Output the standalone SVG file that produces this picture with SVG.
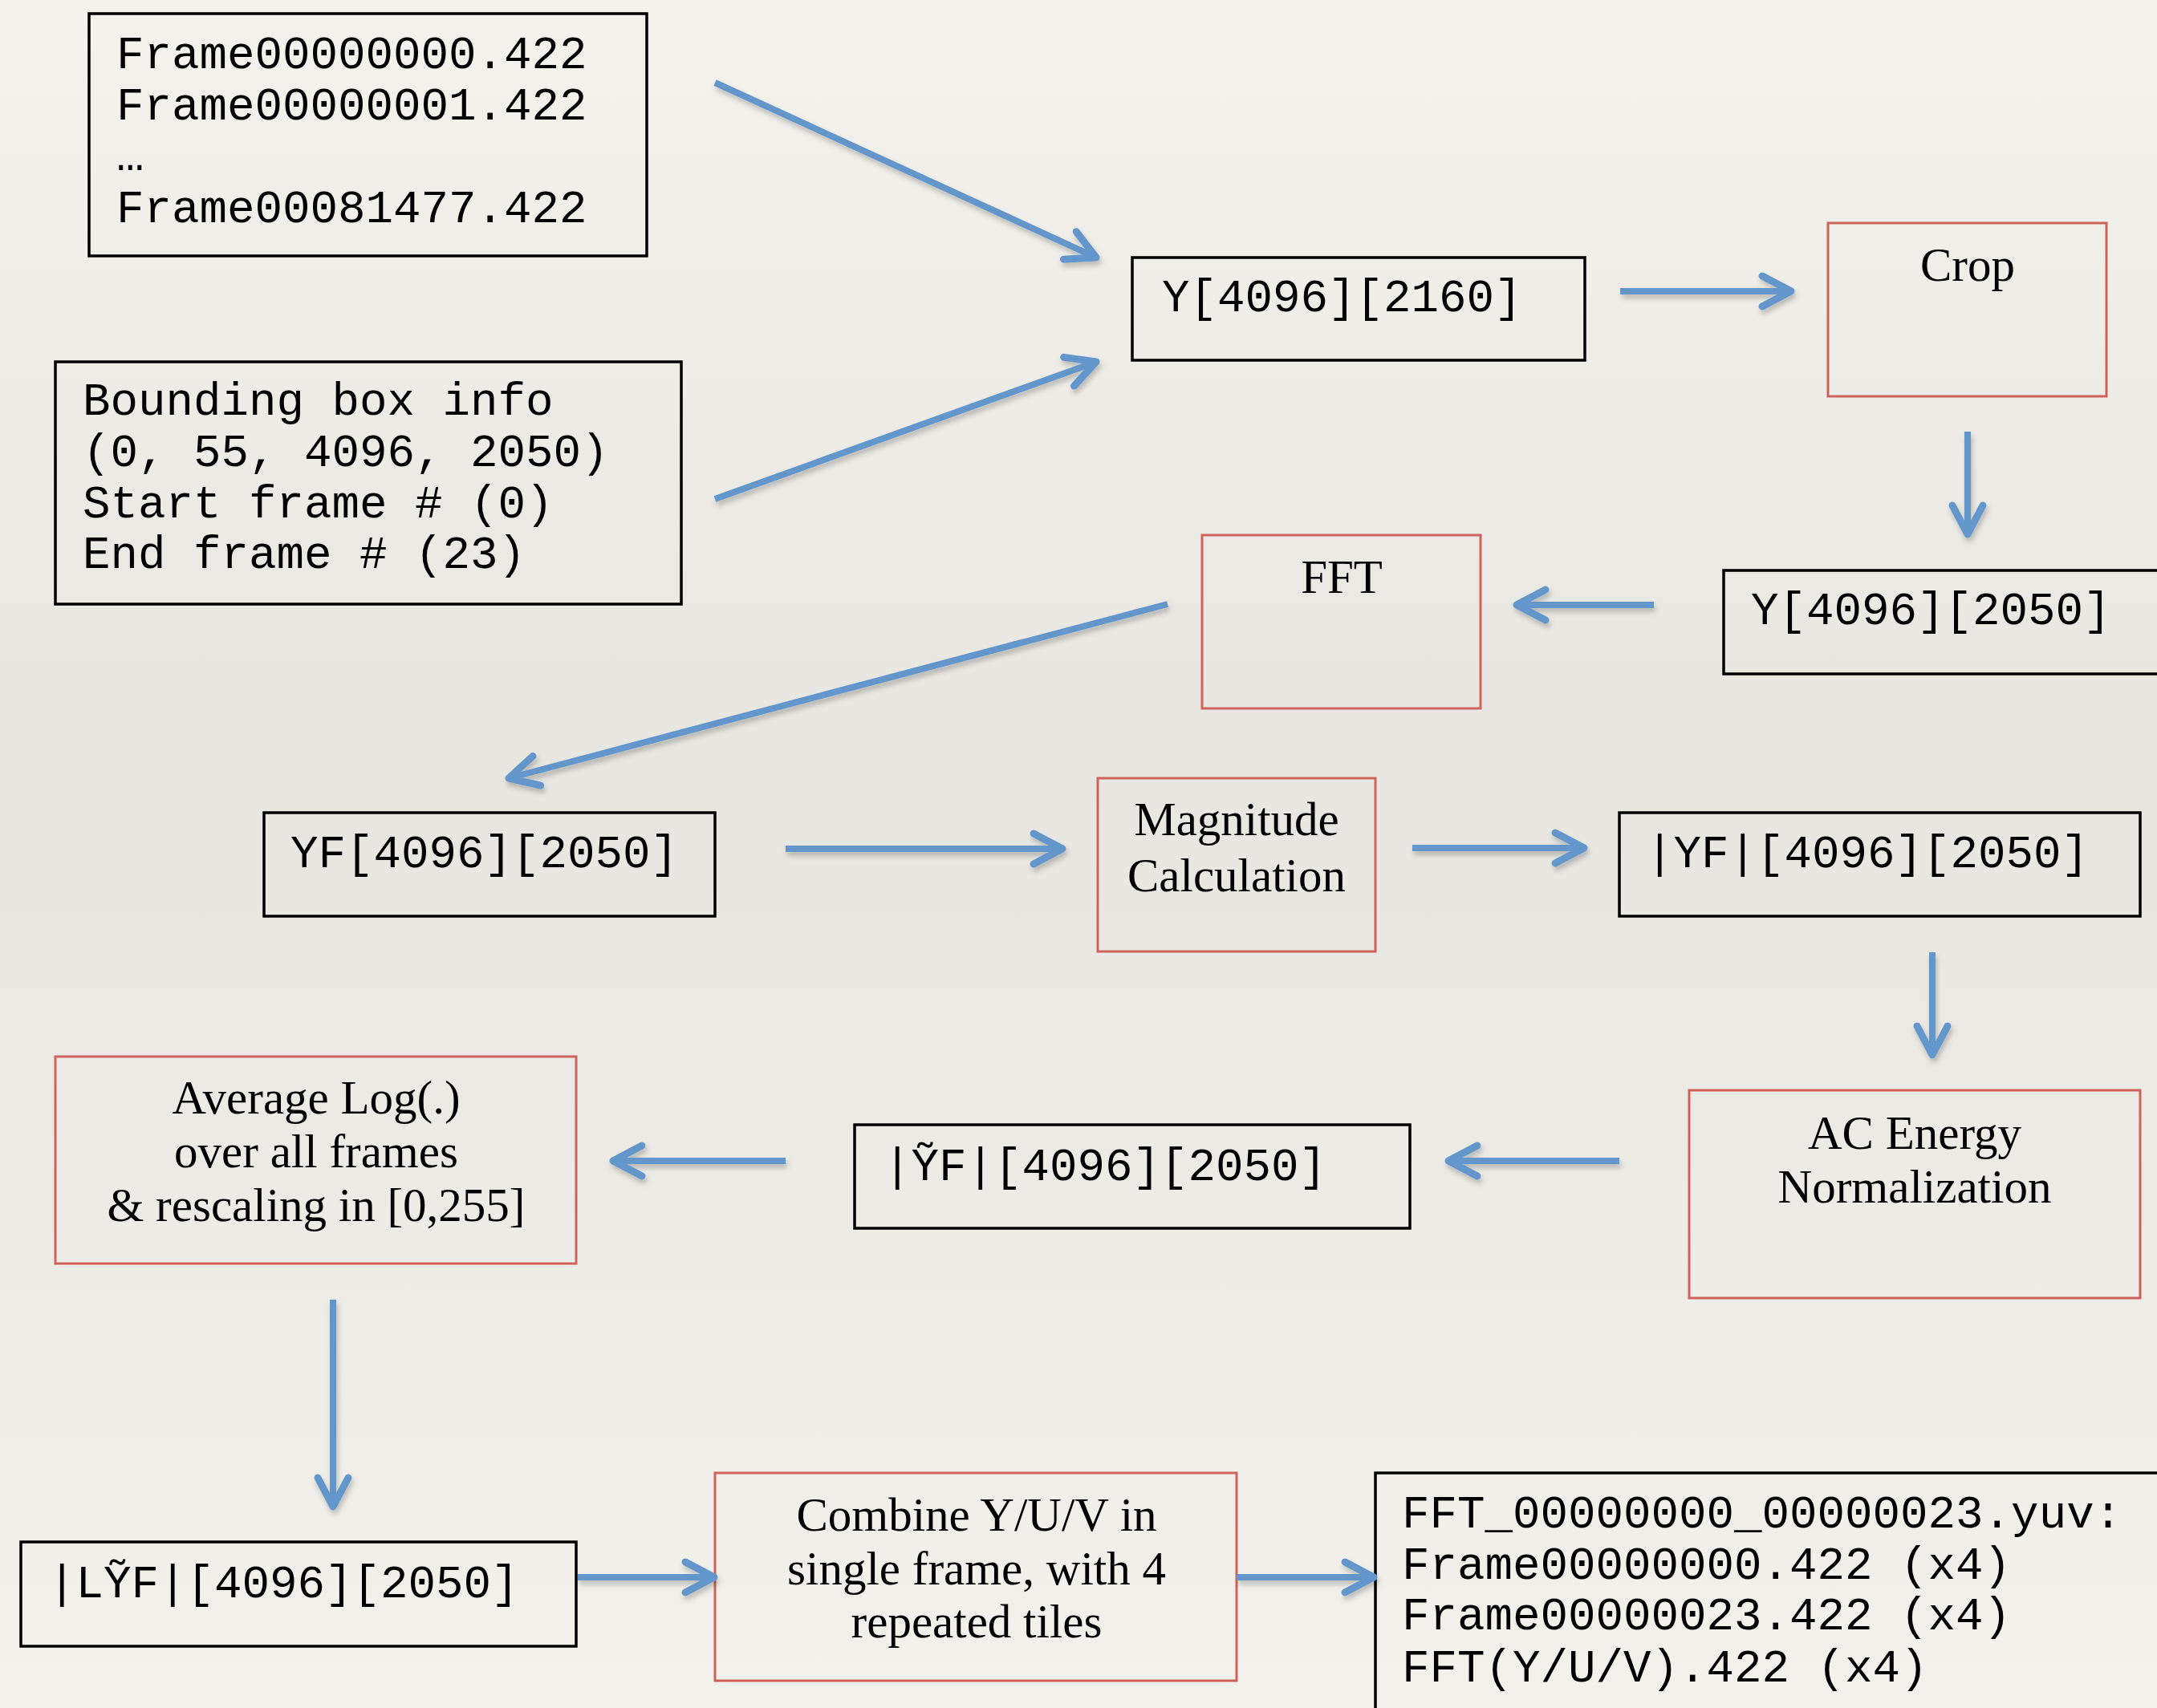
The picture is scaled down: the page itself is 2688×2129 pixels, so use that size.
<svg xmlns="http://www.w3.org/2000/svg" width="2688" height="2129" viewBox="0 0 2688 2129">
<defs>
<linearGradient id="bg" x1="0" y1="0" x2="0" y2="1">
<stop offset="0" stop-color="#F4F2EC"/>
<stop offset="0.45" stop-color="#E8E6E1"/>
<stop offset="1" stop-color="#F3F1EB"/>
</linearGradient>
<filter id="sh" x="-10%" y="-10%" width="120%" height="130%">
<feDropShadow dx="2" dy="5" stdDeviation="3" flood-color="#000" flood-opacity="0.22"/>
</filter>
<marker id="ah" markerUnits="userSpaceOnUse" viewBox="-50 -30 60 60" refX="-4" refY="0" markerWidth="60" markerHeight="60" orient="auto" overflow="visible">
<path d="M-36,-19 L0,0 L-36,19" fill="none" stroke="#6397CC" stroke-width="9" stroke-linecap="round" stroke-linejoin="round"/>
</marker>
</defs>
<style>
.blk{fill:none;stroke:#000;stroke-width:3.5}
.red{fill:none;stroke:#D0625C;stroke-width:3}
.mono{font-family:"Liberation Mono","DejaVu Sans Mono",monospace;font-size:57.5px;fill:#000}
.serif{font-family:"Liberation Serif","DejaVu Serif",serif;font-size:59px;fill:#000;text-anchor:middle}
.con line{stroke:#6397CC;stroke-width:8;fill:none;marker-end:url(#ah)}
</style>
<rect x="0" y="0" width="2688" height="2129" fill="url(#bg)"/>

<g id="frames">
<rect class="blk" x="111" y="17" width="695" height="302"/>
<text class="mono" x="145" y="85">Frame00000000.422</text>
<text class="mono" x="145" y="149">Frame00000001.422</text>
<text class="mono" x="145" y="212">…</text>
<text class="mono" x="145" y="277">Frame00081477.422</text>
</g>

<g id="bbox">
<rect class="blk" x="69" y="451" width="780" height="302"/>
<text class="mono" x="103" y="517">Bounding box info</text>
<text class="mono" x="103" y="581">(0, 55, 4096, 2050)</text>
<text class="mono" x="103" y="645">Start frame # (0)</text>
<text class="mono" x="103" y="708">End frame # (23)</text>
</g>

<g id="y2160">
<rect class="blk" x="1411" y="321" width="564" height="128"/>
<text class="mono" x="1448" y="388">Y[4096][2160]</text>
</g>

<g id="crop">
<rect class="red" x="2278" y="278" width="347" height="216"/>
<text class="serif" x="2452" y="350">Crop</text>
</g>

<g id="y2050">
<rect class="blk" x="2148" y="711" width="560" height="129"/>
<text class="mono" x="2182" y="778">Y[4096][2050]</text>
</g>

<g id="fft">
<rect class="red" x="1498" y="667" width="347" height="216"/>
<text class="serif" x="1672" y="739">FFT</text>
</g>

<g id="yf">
<rect class="blk" x="329" y="1013" width="562" height="129"/>
<text class="mono" x="362" y="1081">YF[4096][2050]</text>
</g>

<g id="magnitude">
<rect class="red" x="1368" y="970" width="346" height="216"/>
<text class="serif" x="1541" y="1041">Magnitude</text>
<text class="serif" x="1541" y="1111">Calculation</text>
</g>

<g id="absyf">
<rect class="blk" x="2018" y="1013" width="649" height="129"/>
<text class="mono" x="2051" y="1081">|YF|[4096][2050]</text>
</g>

<g id="acnorm">
<rect class="red" x="2105" y="1359" width="562" height="259"/>
<text class="serif" x="2386" y="1432">AC Energy</text>
<text class="serif" x="2386" y="1499">Normalization</text>
</g>

<g id="tildeyf">
<rect class="blk" x="1065" y="1402" width="692" height="129"/>
<text class="mono" x="1101" y="1471">|Y&#x303;F|[4096][2050]</text>
</g>

<g id="avglog">
<rect class="red" x="69" y="1317" width="649" height="258"/>
<text class="serif" x="394" y="1388">Average Log(.)</text>
<text class="serif" x="394" y="1455">over all frames</text>
<text class="serif" x="394" y="1522">&amp; rescaling in [0,255]</text>
</g>

<g id="ltildeyf">
<rect class="blk" x="26" y="1922" width="692" height="130"/>
<text class="mono" x="60" y="1991">|LY&#x303;F|[4096][2050]</text>
</g>

<g id="combine">
<rect class="red" x="891" y="1836" width="650" height="259"/>
<text class="serif" x="1217" y="1908">Combine Y/U/V in</text>
<text class="serif" x="1217" y="1975">single frame, with 4</text>
<text class="serif" x="1217" y="2041">repeated tiles</text>
</g>

<g id="output">
<rect class="blk" x="1714" y="1836" width="1000" height="320"/>
<text class="mono" x="1747" y="1904">FFT_00000000_00000023.yuv:</text>
<text class="mono" x="1747" y="1968">Frame00000000.422 (x4)</text>
<text class="mono" x="1747" y="2031">Frame00000023.422 (x4)</text>
<text class="mono" x="1747" y="2096">FFT(Y/U/V).422 (x4)</text>
</g>

<g id="connectors" class="con" filter="url(#sh)">
<line x1="891" y1="103" x2="1362.4" y2="319.3"/>
<line x1="891" y1="622" x2="1362.2" y2="452.4"/>
<line x1="2019" y1="363" x2="2228" y2="363"/>
<line x1="2452" y1="538" x2="2452" y2="662"/>
<line x1="2061" y1="754" x2="1894" y2="754"/>
<line x1="1455" y1="753" x2="637.9" y2="969"/>
<line x1="979" y1="1058" x2="1320" y2="1058"/>
<line x1="1760" y1="1057" x2="1970" y2="1057"/>
<line x1="2408" y1="1187" x2="2408" y2="1311"/>
<line x1="2018" y1="1447" x2="1809" y2="1447"/>
<line x1="979" y1="1447" x2="768" y2="1447"/>
<line x1="415" y1="1620" x2="415" y2="1874"/>
<line x1="720" y1="1966" x2="886" y2="1966"/>
<line x1="1541" y1="1966" x2="1708" y2="1966"/>
</g>
</svg>
